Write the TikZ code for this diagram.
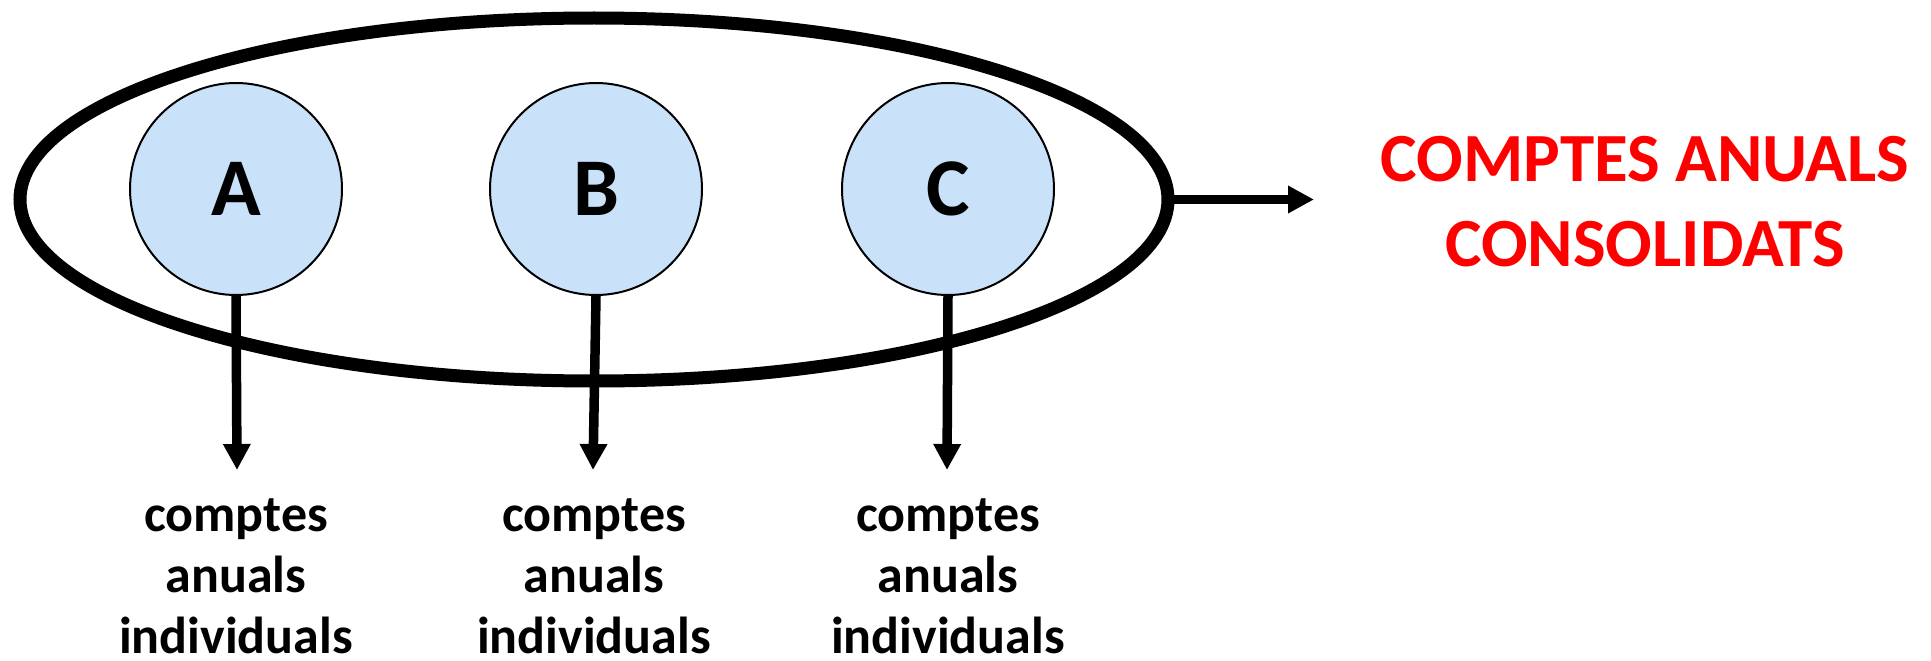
\documentclass[tikz,border=0pt]{standalone}
\usepackage{fontspec}
\setmainfont{Carlito}
\usetikzlibrary{shapes.geometric,arrows.meta}
\definecolor{entityblue}{RGB}{201,226,249}
\begin{document}
\begin{tikzpicture}[x=1pt,y=-1pt,
  groupring/.style={line width=13pt},
  entity/.style={draw, circle, line width=2pt, fill=entityblue, minimum size=212pt, inner sep=0pt,
    font=\fontsize{82}{98}\selectfont\bfseries},
  flow/.style={line width=9.5pt, -{Triangle[length=26pt,width=26pt]}},
  acctext/.style={align=center, inner sep=0pt, font=\fontsize{52}{61}\selectfont\bfseries},
  consol/.style={align=center, inner sep=0pt, text=red, font=\fontsize{69}{85}\selectfont\bfseries}]
\useasboundingbox (0,0) rectangle (1931,661);

% group boundary
\draw[groupring] (594,199.5) ellipse [x radius=574pt, y radius=181.5pt];
\coordinate (grpE) at (1174,199.5);

% companies of the group
\node[entity] (A) at (236,189) {A};
\node[entity] (B) at (596,189) {B};
\node[entity] (C) at (948,189) {C};

% ends of the arrows
\coordinate (ta) at (237,470);
\coordinate (tb) at (593,470);
\coordinate (tc) at (947,470);
\coordinate (tg) at (1314,199.5);

\draw[flow] (A.south) -- (ta);
\draw[flow] (B.south) -- (tb);
\draw[flow] (C.south) -- (tc);
\draw[flow] (grpE) -- (tg);

% individual accounts (base = baseline of the last line)
\node[acctext, anchor=base] (la) at (236,653) {comptes\\anuals\\individuals};
\node[acctext, anchor=base] (lb) at (594,653) {comptes\\anuals\\individuals};
\node[acctext, anchor=base] (lc) at (948,653) {comptes\\anuals\\individuals};

% consolidated accounts
\node[consol, anchor=base] (cons) at (1645,266) {COMPTES ANUALS\\CONSOLIDATS};
\end{tikzpicture}
\end{document}
